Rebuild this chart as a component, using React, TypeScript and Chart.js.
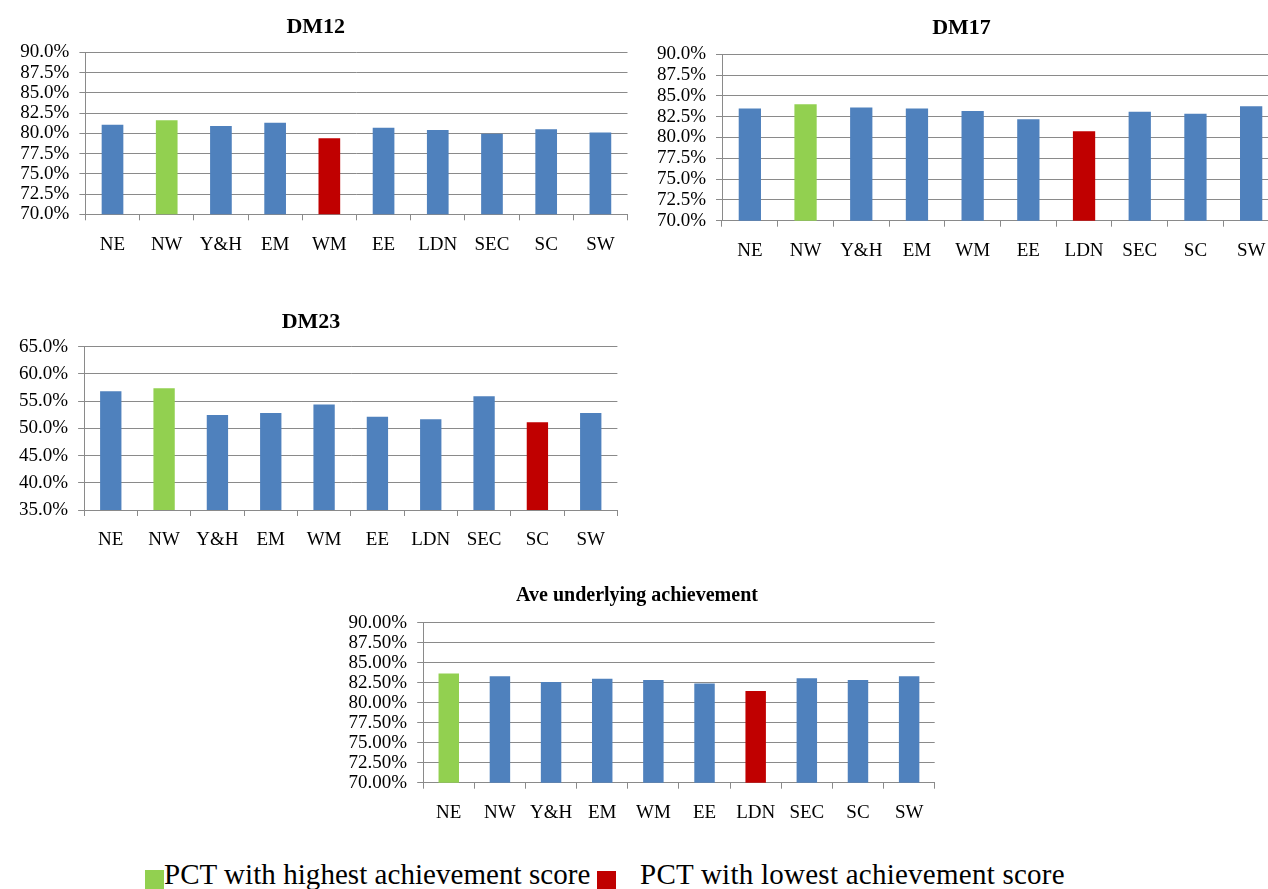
import React, { useEffect, useRef } from "react";
import { Chart, registerables } from "chart.js";

Chart.register(...registerables);

// ---- Data ----
const regions = ["NE", "NW", "Y&H", "EM", "WM", "EE", "LDN", "SEC", "SC", "SW"];
const dm12Values = [81.05, 81.6, 80.9, 81.3, 79.4, 80.7, 80.4, 79.95, 80.5, 80.1];
const dm17Values = [83.5, 84.0, 83.6, 83.5, 83.2, 82.2, 80.75, 83.1, 82.85, 83.75];
const dm23Values = [56.8, 57.35, 52.45, 52.8, 54.4, 52.15, 51.65, 55.9, 51.1, 52.8];
const aveValues = [83.65, 83.3, 82.6, 83.0, 82.85, 82.4, 81.45, 83.05, 82.85, 83.3];

const dmAxisRange = [70, 90, 2.5];
const dm23AxisRange = [35, 65, 5];
const legendLabels = ["PCT with highest achievement score", "PCT with lowest achievement score"];

// ---- Styles ----
const BLUE = "#4F81BD";
const GREEN = "#92D050";
const RED = "#C00000";
const GRID = "#8a8a8a";
const FONT = "'Liberation Serif', 'Times New Roman', serif";

type Geo = {
  left: number; top: number; width: number; height: number;
  plotLeft: number; plotRight: number; plotTop: number; plotBottom: number;
  titleY: number; titleSize: number; padL: number;
};

function BarChart(props: {
  title: string; values: number[]; range: number[]; decimals: number; geo: Geo;
}) {
  const ref = useRef<HTMLCanvasElement | null>(null);
  const { title, values, range, decimals, geo } = props;
  useEffect(() => {
    if (!ref.current) return;
    const maxV = Math.max(...values);
    const minV = Math.min(...values);
    const colors = values.map((v) => (v === maxV ? GREEN : v === minV ? RED : BLUE));
    const padR = geo.left + geo.width - geo.plotRight;
    const yWidth = geo.plotLeft - geo.left - geo.padL;
    const lh = geo.titleSize * 1.2;
    const tPadTop = geo.titleY - geo.top - lh / 2;
    const tPadBottom = geo.plotTop - geo.top - tPadTop - lh;
    const xHeight = geo.top + geo.height - geo.plotBottom;
    const chart = new Chart(ref.current, {
      type: "bar",
      data: {
        labels: regions,
        datasets: [
          {
            data: values,
            backgroundColor: colors,
            borderWidth: 0,
            barPercentage: 0.4,
            categoryPercentage: 1,
          },
        ],
      },
      options: {
        responsive: false,
        animation: false,
        layout: { padding: { left: geo.padL, right: padR, top: 0, bottom: 0 } },
        plugins: {
          legend: { display: false },
          tooltip: { enabled: false },
          title: {
            display: true,
            text: title,
            color: "#000",
            font: { family: FONT, size: geo.titleSize, weight: "bold", lineHeight: 1.2 },
            padding: { top: tPadTop, bottom: tPadBottom },
          },
        },
        scales: {
          x: {
            offset: true,
            grid: {
              display: true,
              offset: true,
              drawOnChartArea: false,
              drawTicks: true,
              tickLength: 6,
              color: GRID,
            },
            border: { display: true, color: GRID },
            ticks: {
              color: "#000",
              padding: 13,
              font: { family: FONT, size: 19 },
              maxRotation: 0,
              autoSkip: false,
            },
            afterFit: (s: any) => {
              s.height = xHeight;
            },
          },
          y: {
            min: range[0],
            max: range[1],
            grid: { color: GRID, tickLength: 6, drawTicks: true },
            border: { display: true, color: GRID },
            ticks: {
              stepSize: range[2],
              autoSkip: false,
              color: "#000",
              padding: 10,
              font: { family: FONT, size: 19 },
              callback: (v: any) => Number(v).toFixed(decimals) + "%",
            },
            afterFit: (s: any) => {
              s.width = yWidth;
            },
          },
        },
      },
    });
    return () => chart.destroy();
  }, [title, values, range, decimals, geo]);
  return (
    <canvas
      ref={ref}
      width={geo.width}
      height={geo.height}
      style={{ position: "absolute", left: geo.left, top: geo.top, width: geo.width, height: geo.height }}
    />
  );
}

const geoDM12: Geo = { left: 0, top: 0, width: 640, height: 262, plotLeft: 85.4, plotRight: 627.5, plotTop: 52.3, plotBottom: 214.3, titleY: 27, titleSize: 22, padL: 4 };
const geoDM17: Geo = { left: 640, top: 0, width: 644, height: 268, plotLeft: 722, plotRight: 1279, plotTop: 54.3, plotBottom: 220.7, titleY: 28.3, titleSize: 22, padL: 4 };
const geoDM23: Geo = { left: 0, top: 290, width: 640, height: 266, plotLeft: 84.1, plotRight: 617.4, plotTop: 346.7, plotBottom: 510, titleY: 322.7, titleSize: 22, padL: 4.6 };
const geoAve: Geo = { left: 330, top: 565, width: 630, height: 264, plotLeft: 423.2, plotRight: 934.7, plotTop: 622.7, plotBottom: 782.7, titleY: 596, titleSize: 20, padL: 9.3 };

export default function App() {
  const legendText: React.CSSProperties = {
    position: "absolute",
    fontFamily: FONT,
    fontSize: 29,
    lineHeight: "29px",
    color: "#000",
    whiteSpace: "nowrap",
    top: 859.7,
  };
  return (
    <div style={{ position: "fixed", left: 0, top: 0, width: 1268, height: 889, overflow: "hidden", background: "#fff" }}>
      <BarChart title="DM12" values={dm12Values} range={dmAxisRange} decimals={1} geo={geoDM12} />
      <BarChart title="DM17" values={dm17Values} range={dmAxisRange} decimals={1} geo={geoDM17} />
      <BarChart title="DM23" values={dm23Values} range={dm23AxisRange} decimals={1} geo={geoDM23} />
      <BarChart title="Ave underlying achievement" values={aveValues} range={dmAxisRange} decimals={2} geo={geoAve} />
      <div style={{ position: "absolute", left: 145, top: 870, width: 19, height: 19, background: GREEN }} />
      <div style={{ ...legendText, left: 164, letterSpacing: "0.05px" }}>{legendLabels[0]}</div>
      <div style={{ position: "absolute", left: 597, top: 871, width: 19, height: 18, background: RED }} />
      <div style={{ ...legendText, left: 640, letterSpacing: "0.25px" }}>{legendLabels[1]}</div>
    </div>
  );
}
